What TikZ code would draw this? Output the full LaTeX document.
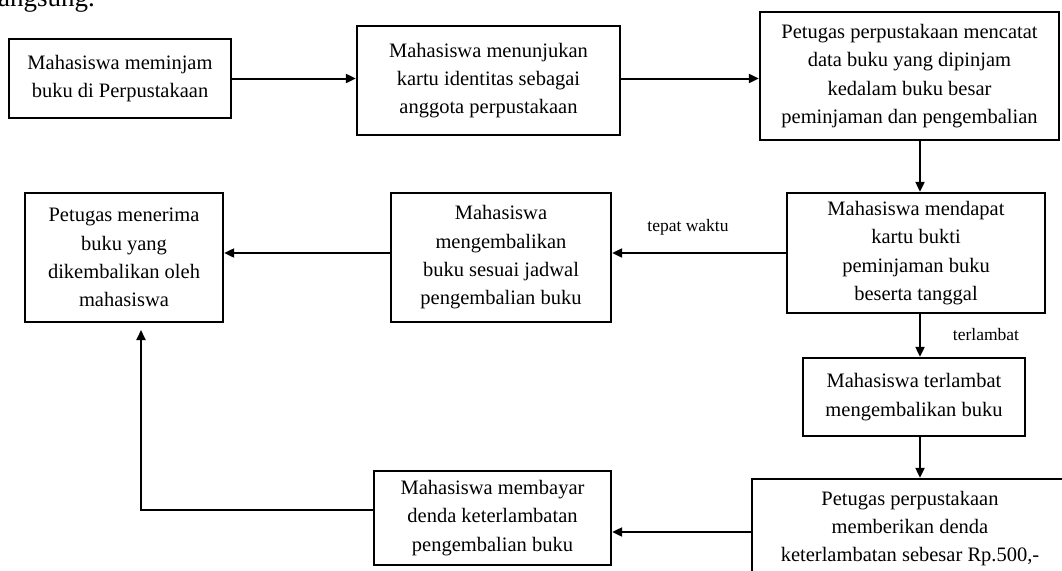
\documentclass[tikz,border=0pt]{standalone}
\usepackage{fontspec}
\setmainfont{Liberation Serif}
\usetikzlibrary{arrows.meta}

\tikzset{
  stepbox/.style={draw, line width=2.3pt, align=center, inner sep=0pt,
    font=\fontsize{20.5}{28.3}\selectfont},
  flow/.style={line width=2pt, -{Triangle[length=10pt,width=9pt]}},
  edgelabel/.style={font=\fontsize{17.5}{20}\selectfont, inner sep=0pt}
}

\begin{document}
\begin{tikzpicture}[x=1pt, y=-1pt]
  \useasboundingbox (0,0) rectangle (1062,570);
  \fill[white] (0,0) rectangle (1062,570);
  \clip (0,0) rectangle (1062,570);

  % tail of the preceding paragraph
  \node[anchor=base west, inner sep=0pt, font=\fontsize{27}{30}\selectfont] (prev) at (-2,6) {angsung.};

  % process steps
  \node[stepbox, minimum width=222pt, minimum height=79pt]  (b1) at (120,78.5)   {Mahasiswa meminjam\\buku di Perpustakaan};
  \node[stepbox, minimum width=263pt, minimum height=109pt] (b2) at (488.5,80.5) {Mahasiswa menunjukan\\kartu identitas sebagai\\anggota perpustakaan};
  \node[stepbox, minimum width=299pt, minimum height=128pt] (b3) at (909.5,76)   {Petugas perpustakaan mencatat\\data buku yang dipinjam\\kedalam buku besar\\peminjaman dan pengembalian};
  \node[stepbox, minimum width=258pt, minimum height=120pt] (b4) at (916,253)    {Mahasiswa mendapat\\kartu bukti\\peminjaman buku\\beserta tanggal};
  \node[stepbox, minimum width=220pt, minimum height=129pt] (b5) at (501,257.5)  {Mahasiswa\\mengembalikan\\buku sesuai jadwal\\pengembalian buku};
  \node[stepbox, minimum width=198pt, minimum height=129pt] (b6) at (124,257.5)  {Petugas menerima\\buku yang\\dikembalikan oleh\\mahasiswa};
  \node[stepbox, minimum width=222pt, minimum height=78pt]  (b7) at (914,397)    {Mahasiswa terlambat\\mengembalikan buku};
  \node[stepbox, minimum width=316pt, minimum height=99pt]  (b8) at (910,528.5)  {Petugas perpustakaan\\memberikan denda\\keterlambatan sebesar Rp.500,-};
  \node[stepbox, minimum width=237pt, minimum height=94pt]  (b9) at (492.5,518)  {Mahasiswa membayar\\denda keterlambatan\\pengembalian buku};

  % guide points for the connectors
  \coordinate (spine) at (920,0);
  \coordinate (back) at (141,330);

  % connectors
  \draw[flow] (b1.east) -- (b1.east -| b2.west);
  \draw[flow] (b2.east |- b1.east) -- (b1.east -| b3.west);
  \draw[flow] (b3.south -| spine) -- (b4.north -| spine);
  \draw[flow] (b4.west) -- (b4.west -| b5.east);
  \draw[flow] (b5.west |- b4.west) -- (b4.west -| b6.east);
  \draw[flow] (b4.south -| spine) -- (b7.north -| spine);
  \draw[flow] (b7.south -| spine) -- (b8.north -| spine);
  \draw[flow] ([yshift=-3.5pt]b8.west) -- ([yshift=-3.5pt]b8.west -| b9.east);
  \draw[flow] ([yshift=8pt]b9.west) -| (back);

  % branch labels
  \node[edgelabel] (lblontime) at (688,227) {tepat waktu};
  \node[edgelabel] (lbllate) at (986,335) {terlambat};
\end{tikzpicture}
\end{document}
